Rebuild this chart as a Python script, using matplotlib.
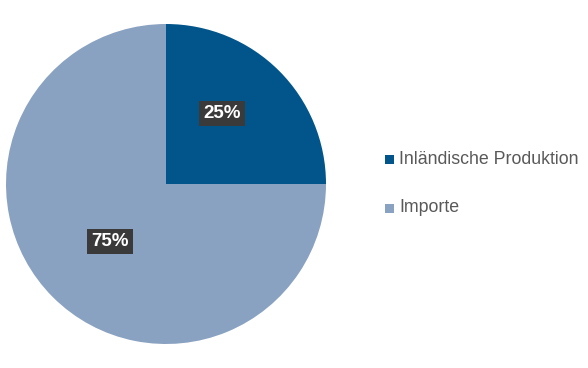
import matplotlib.pyplot as plt
from matplotlib.patches import Rectangle

labels = ["Inländische Produktion", "Importe"]
shares = [25, 75]
colors = ["#02558b", "#8aa2c1"]

plt.rcParams['font.family'] = ['Liberation Sans', 'DejaVu Sans']

fig = plt.figure(figsize=(5.88, 3.68), dpi=100)
ax = fig.add_axes([6 / 588, 24 / 368, 320 / 588, 320 / 368])

wedges, texts, autotexts = ax.pie(
    shares, colors=colors, startangle=90, counterclock=False,
    autopct="%d%%", pctdistance=0.55, radius=1,
    wedgeprops=dict(linewidth=0),
    textprops=dict(color="white", fontsize=13.5, fontweight="bold"))
# label offsets as in the original chart
autotexts[0].set_position((0.35, 0.44))
autotexts[1].set_position((-0.35, -0.36))
for t in autotexts:
    t.set_bbox(dict(boxstyle="square,pad=0.22", facecolor="#3a3a3a", edgecolor="none"))
ax.set_xlim(-1, 1)
ax.set_ylim(-1, 1)
ax.set_aspect("equal")
ax.axis("off")

# legend
for i, (lab, c) in enumerate(zip(labels, colors)):
    y = 1 - (160 + i * 48) / 368
    fig.patches.append(Rectangle((385 / 588, y - 4.5 / 368), 9 / 588, 9 / 368,
                                 transform=fig.transFigure, facecolor=c, edgecolor="none"))
    fig.text(399 / 588, y, lab, fontsize=12.8, color="#595959", va="center", ha="left")

fig.savefig("out.png", dpi=100)
